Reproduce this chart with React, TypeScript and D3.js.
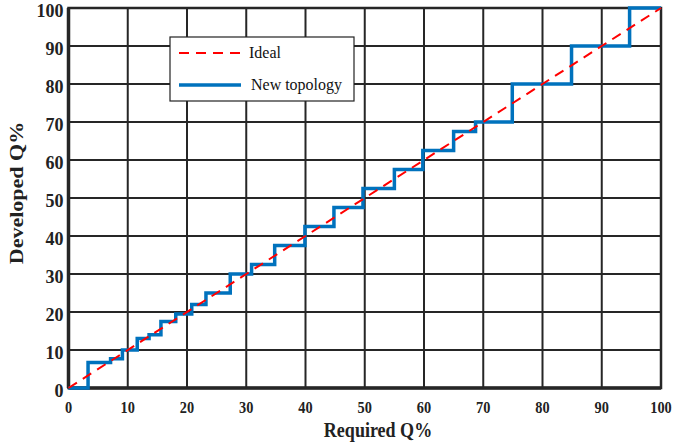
import * as d3 from 'd3';

// step curve of the new topology (required Q% -> developed Q%)
const requiredQ = [0, 3.3, 7.1, 9.1, 11.6, 13.6, 15.6, 18.1, 20.8, 23.2, 27.3, 30.9, 34.8, 39.9, 44.8, 49.7, 55.0, 59.8, 65.0, 68.7, 74.9, 84.9, 94.7, 100];
const developedQ = [0, 6.7, 7.7, 10, 13, 14, 17.5, 19.5, 22, 25, 30, 32.5, 37.5, 42.5, 47.5, 52.5, 57.5, 62.5, 67.5, 70, 80, 90, 100, 100];
const idealQ = [0, 100];
const tickLabels = [0, 10, 20, 30, 40, 50, 60, 70, 80, 90, 100];

const seriesNames = ['Ideal', 'New topology'];
const seriesColors = ['#ff0000', '#0072bd'];

export default function App() {
  const width = 678;
  const height = 445;
  const margin = { top: 8, right: 17, bottom: 57, left: 68.5 };
  const innerWidth = width - margin.left - margin.right;
  const innerHeight = height - margin.top - margin.bottom;

  const x = d3.scaleLinear().domain([0, 100]).range([0, innerWidth]);
  const y = d3.scaleLinear().domain([0, 100]).range([innerHeight, 0]);

  const stepPts: [number, number][] = requiredQ.map((r, i) => [r, developedQ[i]]);
  const stepLine = d3
    .line<[number, number]>()
    .x((d) => x(d[0]))
    .y((d) => y(d[1]))
    .curve(d3.curveStepAfter);
  const idealLine = d3
    .line<number>()
    .x((d) => x(d))
    .y((d) => y(d));

  const font = '"Liberation Serif", "Times New Roman", serif';
  const gridColor = '#262626';

  return (
    <svg width={width} height={height} style={{ position: 'absolute', left: 0, top: 0, background: '#fff' }}>
      <g transform={`translate(${margin.left},${margin.top})`}>
        {tickLabels.map((t) => (
          <g key={t}>
            <line x1={x(t)} x2={x(t)} y1={0} y2={innerHeight} stroke={gridColor} strokeWidth={2} />
            <line x1={0} x2={innerWidth} y1={y(t)} y2={y(t)} stroke={gridColor} strokeWidth={2} />
            <text
              transform={`translate(${x(t)},${innerHeight + 25}) scale(0.82,1)`}
              textAnchor="middle"
              fontFamily={font}
              fontWeight="bold"
              fontSize={17.5}
              fill="#222"
            >
              {t}
            </text>
            <text
              x={-5}
              y={y(t) + 8.5}
              textAnchor="end"
              fontFamily={font}
              fontWeight="bold"
              fontSize={18}
              fill="#222"
            >
              {t}
            </text>
          </g>
        ))}
        <rect x={0} y={0} width={innerWidth} height={innerHeight} fill="none" stroke={gridColor} strokeWidth={2.5} />
        <line x1={0} x2={innerWidth} y1={innerHeight} y2={innerHeight} stroke={gridColor} strokeWidth={3.5} />
        <line x1={0} x2={0} y1={0} y2={innerHeight} stroke={gridColor} strokeWidth={3.5} />

        <path d={stepLine(stepPts) ?? ''} fill="none" stroke={seriesColors[1]} strokeWidth={3.5} />
        <path d={idealLine(idealQ) ?? ''} fill="none" stroke={seriesColors[0]} strokeWidth={2} strokeDasharray="10 7" />

        <g transform="translate(101.5,29)">
          <rect x={0} y={0} width={184} height={64} fill="#fff" stroke="#222" strokeWidth={1.2} />
          {seriesNames.map((name, i) => (
            <g key={name} transform={`translate(0,${16 + i * 32})`}>
              <line
                x1={9}
                x2={71}
                y1={0}
                y2={0}
                stroke={seriesColors[i]}
                strokeWidth={i === 0 ? 2 : 3.5}
                strokeDasharray={i === 0 ? '10 7' : undefined}
              />
              <text
                transform={`translate(${i === 0 ? 79 : 81},5) scale(1,1.1)`}
                fontFamily={font}
                fontSize={16}
                fill="#111"
              >
                {name}
              </text>
            </g>
          ))}
        </g>
      </g>
      <text
        transform="translate(378,437) scale(0.88,1)"
        textAnchor="middle"
        fontFamily={font}
        fontWeight="bold"
        fontSize={20.5}
        fill="#222"
      >
        Required Q%
      </text>
      <text
        transform="translate(23,193) rotate(-90) scale(1.16,1)"
        textAnchor="middle"
        fontFamily={font}
        fontWeight="bold"
        fontSize={19}
        fill="#222"
      >
        Developed Q%
      </text>
    </svg>
  );
}
